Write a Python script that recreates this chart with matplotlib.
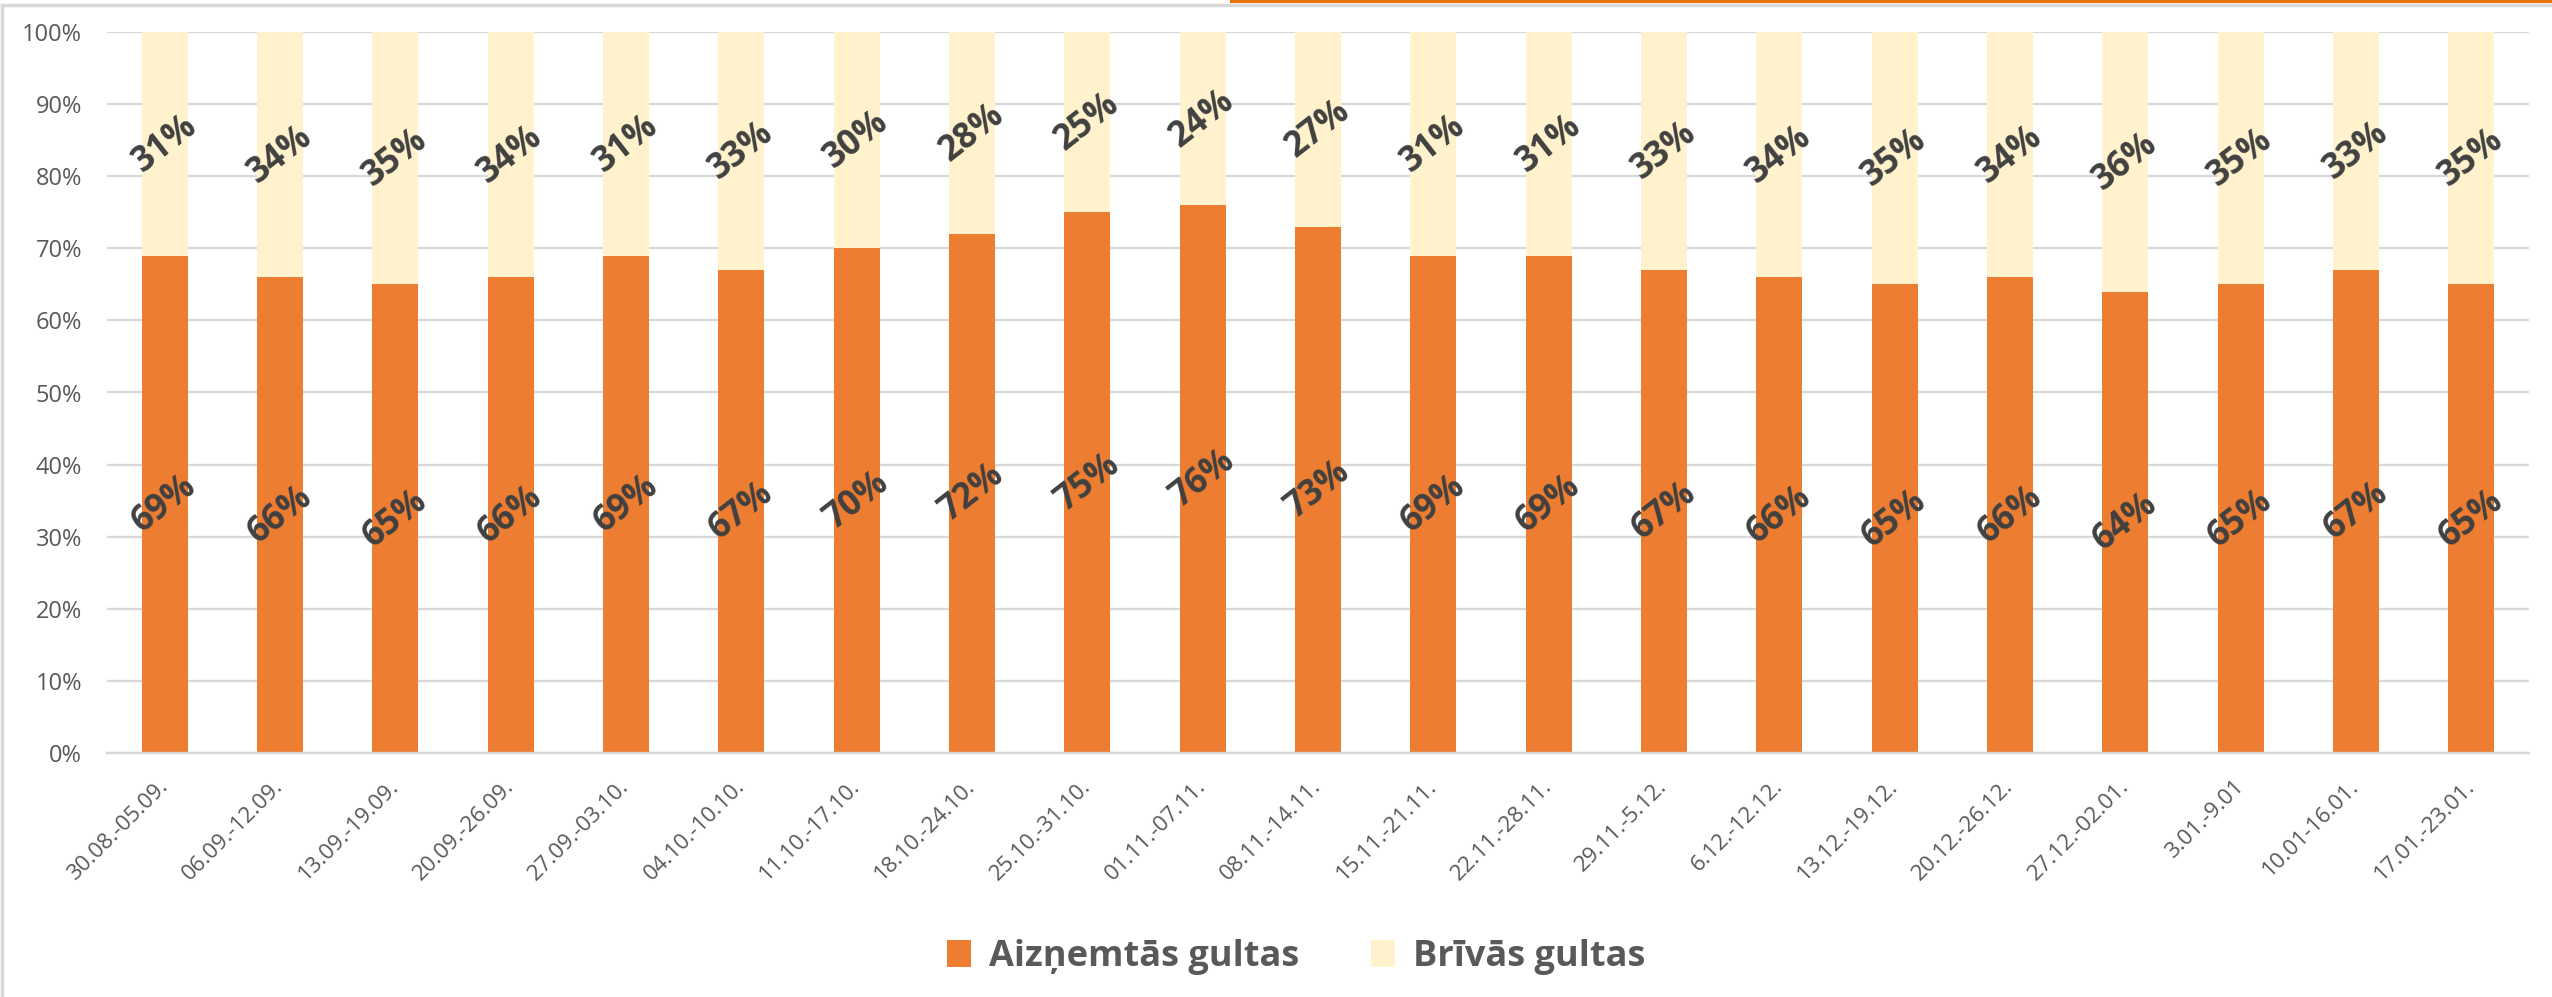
import numpy as np
import matplotlib
matplotlib.use('Agg')
import matplotlib.pyplot as plt
from matplotlib.lines import Line2D
from matplotlib.patches import Patch

# week ranges and bed occupancy shares (%)
weeks = ['30.08.-05.09.', '06.09.-12.09.', '13.09.-19.09.', '20.09.-26.09.', '27.09.-03.10.',
         '04.10.-10.10.', '11.10.-17.10.', '18.10.-24.10.', '25.10.-31.10.', '01.11.-07.11.',
         '08.11.-14.11.', '15.11.-21.11.', '22.11.-28.11.', '29.11.-5.12.', '6.12.-12.12.',
         '13.12.-19.12.', '20.12.-26.12.', '27.12.-02.01.', '3.01.-9.01', '10.01-16.01.',
         '17.01.-23.01.']
occupied = [69, 66, 65, 66, 69, 67, 70, 72, 75, 76, 73, 69, 69, 67, 66, 65, 66, 64, 65, 67, 65]
free = [31, 34, 35, 34, 31, 33, 30, 28, 25, 24, 27, 31, 31, 33, 34, 35, 34, 36, 35, 33, 35]
series_names = ['Aizņemtās gultas', 'Brīvās gultas']

orange = '#ED7D31'
cream = '#FFF2CC'
grey_txt = '#595959'
label_txt = '#404040'
grid_col = '#D9D9D9'

plt.rcParams['font.family'] = ['Open Sans', 'DejaVu Sans']

fig = plt.figure(figsize=(25.52, 9.97), dpi=100)
ax = fig.add_axes([107 / 2552, 1 - 753 / 997, (2529 - 107) / 2552, (753 - 32) / 997])

x = np.arange(len(weeks))
occ = np.array(occupied)
fr = np.array(free)

ax.bar(x, occ, width=0.4, color=orange, zorder=2)
ax.bar(x, fr, width=0.4, bottom=occ, color=cream, zorder=2)

# data labels in the middle of each segment
for i in range(len(weeks)):
    ax.text(x[i], occ[i] / 2, f'{occ[i]}%', rotation=38, ha='center', va='center',
            fontsize=25, fontweight='bold', color=label_txt, zorder=3)
    ax.text(x[i], occ[i] + fr[i] / 2, f'{fr[i]}%', rotation=38, ha='center', va='center',
            fontsize=25, fontweight='bold', color=label_txt, zorder=3)

ax.set_xlim(-0.5, len(weeks) - 0.5)
ax.set_ylim(0, 100)
ax.set_yticks(np.arange(0, 101, 10))
ax.set_yticklabels([f'{v}%' for v in range(0, 101, 10)], fontsize=17, color=grey_txt)
ax.set_xticks(x)
ax.set_xticklabels(weeks, rotation=45, ha='right', va='center', rotation_mode='anchor',
                   fontsize=16, color=grey_txt)
ax.tick_params(axis='both', length=0)
ax.tick_params(axis='y', pad=18)
ax.tick_params(axis='x', pad=22)

ax.yaxis.grid(True, color=grid_col, linewidth=1.7, zorder=0)
ax.set_axisbelow(True)
for s in ['top', 'right', 'left']:
    ax.spines[s].set_visible(False)
ax.spines['bottom'].set_color(grid_col)
ax.spines['bottom'].set_linewidth(1.7)

handles = [Patch(facecolor=orange), Patch(facecolor=cream)]
leg = fig.legend(handles, series_names, loc='center', bbox_to_anchor=(1296 / 2552, 1 - 957 / 997),
                 ncol=2, frameon=False, handlelength=0.65, handleheight=0.75, handletextpad=0.5,
                 columnspacing=2.0, prop={'size': 26, 'weight': 'bold'})
for t in leg.get_texts():
    t.set_color(grey_txt)

# chart frame and the orange strip at the top edge
fig.add_artist(Line2D([2 / 2552, 1], [1 - 5 / 997, 1 - 5 / 997], color=grid_col, linewidth=2.5,
                      transform=fig.transFigure))
fig.add_artist(Line2D([2 / 2552, 2 / 2552], [0, 1 - 5 / 997], color=grid_col, linewidth=2.5,
                      transform=fig.transFigure))
fig.add_artist(Line2D([1232 / 2552, 1], [1 - 1.5 / 997, 1 - 1.5 / 997], color='#E8710A',
                      linewidth=3, transform=fig.transFigure))

fig.savefig('out.png', dpi=100)
